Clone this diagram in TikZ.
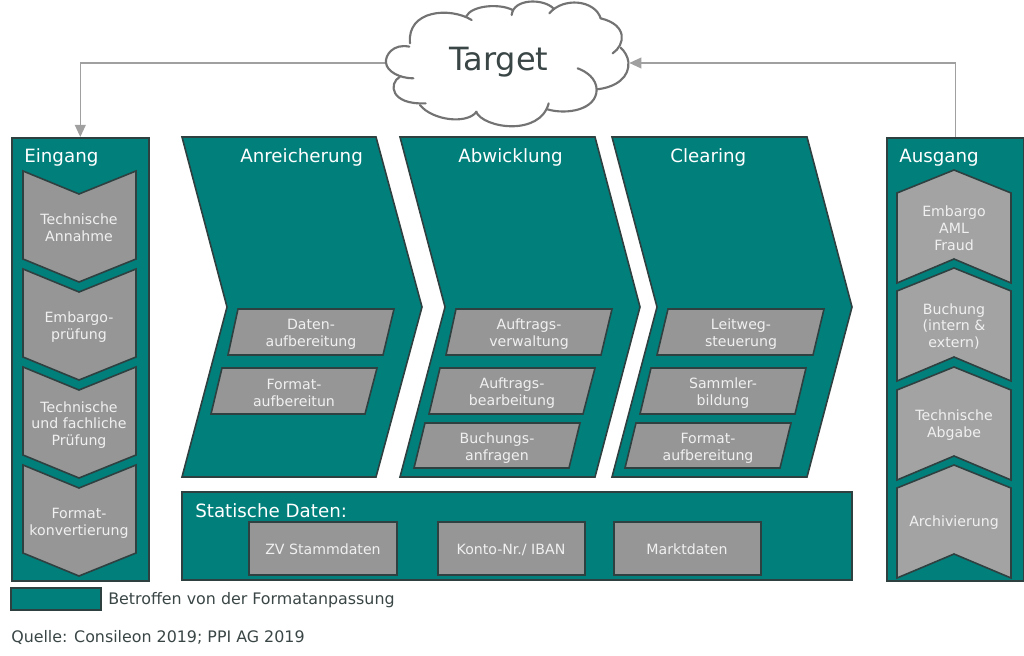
\documentclass[tikz,border=0pt]{standalone}
\usepackage{fontspec}
\setmainfont{DejaVu Sans}
\usetikzlibrary{arrows.meta}
\definecolor{teal1}{HTML}{007F7B}
\definecolor{edge1}{HTML}{2F4040}
\definecolor{gray1}{HTML}{969696}
\definecolor{gray2}{HTML}{A3A3A3}
\definecolor{conn}{HTML}{A0A0A0}
\definecolor{txt}{HTML}{F0F0F0}
\definecolor{dark}{HTML}{3A4545}
\tikzset{
  x=0.75pt,y=-0.75pt,
  tealbox/.style={fill=teal1,draw=edge1,line width=1.2pt,line join=miter},
  grayshape/.style={fill=gray1,draw=edge1,line width=1.2pt},
  grayup/.style={fill=gray2,draw=edge1,line width=1.2pt},
  inner/.style={text=txt,font=\fontsize{10.6}{12.6}\selectfont,align=center,inner sep=0pt},
  head/.style={text=white,font=\fontsize{13.7}{16}\selectfont,anchor=base west,inner sep=0pt},
  note/.style={text=dark,font=\fontsize{11.9}{14}\selectfont,anchor=base west,inner sep=0pt},
  cloudline/.style={draw=black!55,line width=1.6pt,line cap=round},
  link/.style={draw=conn,line width=1.2pt},
  tip/.style={-{Triangle[length=9pt,width=8pt]}}
}
\begin{document}
\begin{tikzpicture}
\useasboundingbox (0,0) rectangle (1024,656);
% side columns
\node[tealbox,minimum width=102.75pt,minimum height=332.25pt,inner sep=0pt,anchor=north west] (eingang) at (11,137) {};
\node[tealbox,minimum width=102.75pt,minimum height=332.25pt,inner sep=0pt,anchor=north west] (ausgang) at (886,137) {};
\node[head] (heingang) at (24,163) {Eingang};
\node[head] (hausgang) at (899,163) {Ausgang};
% Eingang chevrons
\foreach \t in {171,269,367,465}{
  \draw[grayshape] (23,\t) -- (79,\t+23) -- (136,\t) -- (136,\t+88) -- (79,\t+111) -- (23,\t+88) -- cycle;
}
\node[inner] (e1) at (79,228) {Technische\\Annahme};
\node[inner] (e2) at (79,327) {Embargo-\\prüfung};
\node[inner] (e3) at (79,425) {Technische\\und fachliche\\Prüfung};
\node[inner] (e4) at (79,523.5) {Format-\\konvertierung};
% Ausgang pentagons
\foreach \t in {170,268,367,465}{
  \draw[grayup] (954,\t) -- (1011,\t+23) -- (1011,\t+113) -- (954,\t+89) -- (897,\t+113) -- (897,\t+23) -- cycle;
}
\node[inner] (a1) at (954,228) {Embargo\\AML\\Fraud};
\node[inner] (a2) at (954,326.5) {Buchung\\(intern \&\\extern)};
\node[inner] (a3) at (954,425) {Technische\\Abgabe};
\node[inner] (a4) at (954,523) {Archivierung};
% main chevrons
\draw[tealbox] (182,137) -- (376,137) -- (422,307) -- (376,477) -- (182,477) -- (227,307) -- cycle;
\draw[tealbox] (400,137) -- (595,137) -- (640,307) -- (595,477) -- (400,477) -- (445,307) -- cycle;
\draw[tealbox] (612,137) -- (807,137) -- (852,307) -- (807,477) -- (612,477) -- (657,307) -- cycle;
\node[head] (h1) at (240,163) {Anreicherung};
\node[head] (h2) at (458,163) {Abwicklung};
\node[head] (h3) at (670,163) {Clearing};
% parallelograms
\draw[grayshape] (238,309) -- (394,309) -- (383,355) -- (228,355) -- cycle;
\node[inner] (p1) at (311,334) {Daten-\\aufbereitung};
\draw[grayshape] (222,368) -- (377,368) -- (365,414) -- (211,414) -- cycle;
\node[inner] (p2) at (294,393) {Format-\\aufbereitun};
\draw[grayshape] (456,309) -- (612,309) -- (601,355) -- (446,355) -- cycle;
\node[inner] (p3) at (529,334) {Auftrags-\\verwaltung};
\draw[grayshape] (440,368) -- (595,368) -- (583,414) -- (429,414) -- cycle;
\node[inner] (p4) at (512,393) {Auftrags-\\bearbeitung};
\draw[grayshape] (425,423) -- (580,423) -- (569,468) -- (414,468) -- cycle;
\node[inner] (p5) at (497,448) {Buchungs-\\anfragen};
\draw[grayshape] (668,309) -- (824,309) -- (813,355) -- (657,355) -- cycle;
\node[inner] (p6) at (741,334) {Leitweg-\\steuerung};
\draw[grayshape] (651,368) -- (806,368) -- (795,414) -- (640,414) -- cycle;
\node[inner] (p7) at (723,393) {Sammler-\\bildung};
\draw[grayshape] (636,423) -- (791,423) -- (780,468) -- (625,468) -- cycle;
\node[inner] (p8) at (708,448) {Format-\\aufbereitung};
% static data
\draw[tealbox] (182,492) rectangle (852,580);
\node[head] (hs) at (195,517) {Statische Daten:};
\draw[grayshape] (249,522) rectangle (397,575);
\node[inner,anchor=base] (s1) at (323,554) {ZV Stammdaten};
\draw[grayshape] (438,522) rectangle (585,575);
\node[inner,anchor=base] (s2) at (511,554) {Konto-Nr./ IBAN};
\draw[grayshape] (614,522) rectangle (761,575);
\node[inner,anchor=base] (s3) at (687,554) {Marktdaten};
% legend
\draw[tealbox] (11,588) rectangle (101,610);
\node[note] (leg) at (108,604) {Betroffen von der Formatanpassung};
\node[note] (src) at (11,642) {Quelle: Consileon 2019; PPI AG 2019};
% connectors (drawn below the cloud)
\node[minimum width=182.25pt,minimum height=20pt,inner sep=0pt] (target) at (507.5,63) {};
\draw[link,tip] (target.west) -| (eingang.north);
\draw[link,tip] (ausgang.north) |- (target.east);
% cloud
\begin{scope}[shift={(360,0)},x=0.25pt,y=-0.25pt]
\fill[white] (150,130) .. controls (150,60) and (270,20) .. (320,50) .. controls (400,5) and (450,5) .. (458,30)
 .. controls (500,-5) and (560,0) .. (580,25) .. controls (620,-5) and (700,0) .. (722,55)
 .. controls (780,70) and (810,110) .. (785,145) .. controls (815,170) and (810,240) .. (710,268)
 .. controls (710,330) and (620,345) .. (562,325) .. controls (540,390) and (400,400) .. (348,335)
 .. controls (300,370) and (220,355) .. (185,315) .. controls (120,320) and (80,280) .. (118,230)
 .. controls (70,210) and (60,140) .. (150,130) -- cycle;
\draw[cloudline] (148,140) .. controls (100,130) and (75,165) .. (78,188) .. controls (80,215) and (120,235) .. (160,235);
\draw[cloudline] (120,230) .. controls (85,250) and (90,315) .. (197,310);
\draw[cloudline] (180,315) .. controls (215,360) and (320,375) .. (350,335);
\draw[cloudline] (348,335) .. controls (370,385) and (540,410) .. (566,310);
\draw[cloudline] (562,328) .. controls (620,345) and (710,330) .. (710,268) .. controls (708,235) and (680,215) .. (653,205);
\draw[cloudline] (710,268) .. controls (770,262) and (810,230) .. (805,185) .. controls (803,170) and (795,155) .. (782,143);
\draw[cloudline] (758,160) .. controls (795,135) and (805,75) .. (722,55);
\draw[cloudline] (722,55) .. controls (705,0) and (610,-10) .. (568,40);
\draw[cloudline] (580,25) .. controls (550,-5) and (460,-5) .. (455,45);
\draw[cloudline] (458,30) .. controls (420,10) and (335,15) .. (318,50);
\draw[cloudline] (335,60) .. controls (270,20) and (140,30) .. (150,130);
\end{scope}
\node[text=dark,font=\fontsize{24}{28}\selectfont,inner sep=0pt] (ttl) at (499,62) {Target};
\end{tikzpicture}
\end{document}
